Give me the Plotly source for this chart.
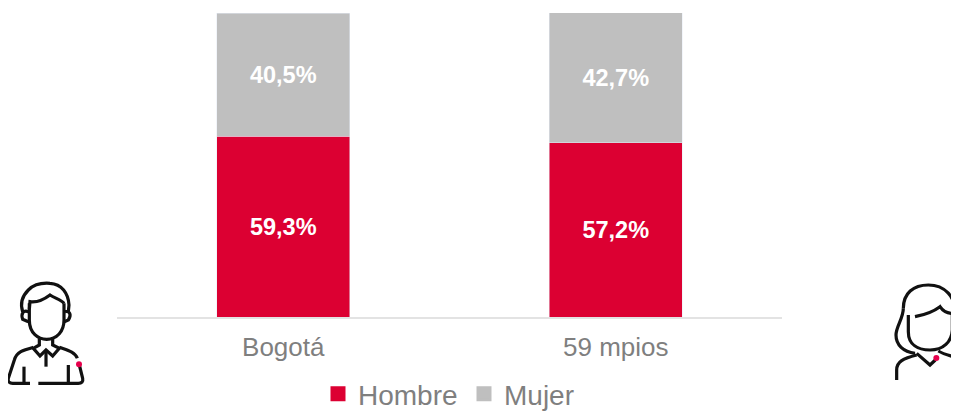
import plotly.graph_objects as go

categories = ["Bogotá", "59 mpios"]
hombre = [59.3, 57.2]
mujer = [40.5, 42.7]

PAGE = 8  # default page margin around the figure
W, H = 959 - PAGE, 412 - PAGE
RED = "#DC0032"
GRAY = "#BFBFBF"
TXT = "#7F7F7F"
FONT = "Liberation Sans, Arial, sans-serif"

MAN = [
    "M68,125 C60,100 65,80 85,60 C100,45 125,38 150,40 C185,42 205,70 207,105 L205,125",
    "M88,118 L90,95 C110,98 130,90 150,75 C165,85 185,90 192,100",
    "M88,100 L88,150 C88,190 115,208 140,208 C170,208 192,185 192,150 L192,100",
    "M85,125 C70,120 62,130 68,148 L85,155",
    "M195,125 C210,122 215,135 205,150 L193,155",
    "M118,205 L118,225 L100,235 L120,258 L138,240 L158,258 L178,235 L158,225 L158,205",
    "M138,240 L138,290",
    "M100,232 C70,240 50,245 43,270 L25,325 C23,335 28,340 38,340 L90,340",
    "M115,340 L235,340 C245,340 250,335 248,325 L238,285",
    "M178,232 C200,240 225,245 232,265",
    "M72,290 L72,340",
    "M205,285 L205,340",
]
WOMAN = [
    "M100,115 C100,70 130,45 175,45 C225,45 255,80 258,130 C260,155 268,170 285,185",
    "M100,115 C100,145 78,170 78,195 C78,225 100,245 135,250",
    "M115,135 L115,185 C115,225 145,240 180,240 C220,240 245,215 247,180 L247,130",
    "M135,140 C160,135 190,125 210,110 C220,125 235,130 247,130",
    "M140,250 L180,285 L196,270",
    "M80,330 L80,300 C80,275 100,265 140,255",
    "M205,243 C225,255 250,260 270,265",
]


def px(x):
    return (x - PAGE) / W


def py(y):
    return 1 - (y - PAGE) / H


def fix(path, ox, oy):
    res = []
    for tok in path.split():
        if tok[0] in "MLC":
            c, body = tok[0], tok[1:]
        else:
            c, body = "", tok
        x, y = body.split(",")
        res.append(f"{c}{px(float(x) / 3 + ox):.5f},{py(float(y) / 3 + oy):.5f}")
    return " ".join(res)


def icon(paths, ox, oy, dot):
    shapes = []
    for p in paths:
        shapes.append(dict(type="path", xref="paper", yref="paper", path=fix(p, ox, oy),
                           line=dict(color="#111111", width=3.2), layer="above"))
    dx, dy = dot[0] / 3 + ox, dot[1] / 3 + oy
    shapes.append(dict(type="circle", xref="paper", yref="paper",
                       x0=px(dx - 3), x1=px(dx + 3), y0=py(dy + 3), y1=py(dy - 3),
                       fillcolor="#E6004C", line=dict(width=0), layer="above"))
    return shapes


def fmt(v):
    return f"{v:.1f}%".replace(".", ",")


fig = go.Figure()
fig.add_bar(name="Hombre", x=categories, y=hombre, marker=dict(color=RED),
            text=[fmt(v) for v in hombre], showlegend=False)
fig.add_bar(name="Mujer", x=categories, y=mujer, marker=dict(color=GRAY),
            text=[fmt(v) for v in mujer], showlegend=False)
# Legend keys: same series names, slightly larger swatch than the library default
fig.add_bar(name="Hombre", x=[None], y=[None], marker=dict(color=RED, line=dict(color=RED, width=3)))
fig.add_bar(name="Mujer", x=[None], y=[None], marker=dict(color=GRAY, line=dict(color=GRAY, width=3)))
fig.update_traces(textposition="inside", insidetextanchor="middle", constraintext="none",
                  textangle=0, textfont=dict(family=FONT, size=23.5, color="white", weight="bold"),
                  hoverinfo="skip")

fig.update_layout(
    width=W, height=H, barmode="stack", bargap=0.6,
    margin=dict(l=0, r=0, t=0, b=0, autoexpand=False),
    paper_bgcolor="white", plot_bgcolor="white",
    font=dict(family=FONT, color=TXT),
    xaxis=dict(domain=[px(117), px(782)], showgrid=False, showline=True, linecolor="#E3E3E3",
               linewidth=2, ticks="", tickfont=dict(size=26, color=TXT), ticklabelstandoff=6,
               zeroline=False),
    yaxis=dict(domain=[py(317), py(13)], range=[0, 99.8], visible=False),
    legend=dict(orientation="h", x=px(318), xanchor="left", y=py(369), yanchor="top",
                traceorder="normal", font=dict(size=28, color=TXT),
                entrywidth=101, entrywidthmode="pixels",
                itemclick=False, itemdoubleclick=False, bgcolor="rgba(0,0,0,0)"),
    shapes=icon(MAN, 0, 270, (237, 283)) + icon(WOMAN, 870, 270, (199, 264)),
)
fig.write_html("out.html", config=dict(displayModeBar=False))
